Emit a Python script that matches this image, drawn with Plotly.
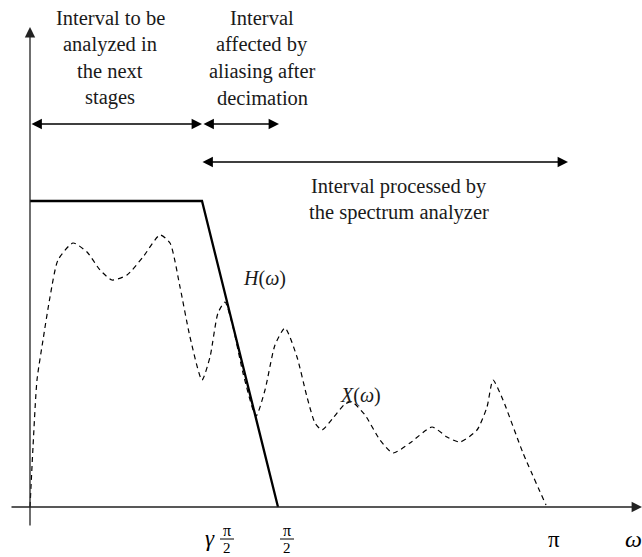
import plotly.graph_objects as go

# ---- data (units: 1 unit = 100 px of the drawing) ----
x_omega = [0.00, 0.03, 0.07, 0.13, 0.20, 0.28, 0.43, 0.57, 0.70, 0.82, 0.97, 1.13, 1.30, 1.40,
           1.50, 1.60, 1.72, 1.80, 1.88, 1.95, 2.03, 2.13, 2.26, 2.35, 2.45, 2.55, 2.67, 2.77,
           2.85, 2.92, 3.03, 3.15, 3.22, 3.35, 3.50, 3.63, 3.80, 4.02, 4.17, 4.30, 4.47, 4.57,
           4.63, 4.73, 4.93, 5.16]
x_mag = [0.00, 0.60, 1.27, 1.67, 2.10, 2.47, 2.64, 2.55, 2.37, 2.27, 2.32, 2.50, 2.72, 2.64,
         2.20, 1.70, 1.27, 1.50, 1.94, 2.05, 1.80, 1.34, 0.91, 1.17, 1.62, 1.79, 1.50, 1.10,
         0.84, 0.77, 0.89, 1.03, 1.05, 0.92, 0.67, 0.54, 0.64, 0.80, 0.70, 0.65, 0.77, 1.00,
         1.27, 1.07, 0.54, 0.02]

h_omega = [0.00, 1.72, 2.48]
h_mag = [3.06, 3.06, 0.00]

tick_pos = [1.97, 2.57, 5.24]          # gamma*pi/2, pi/2, pi
tick_num = ["π", "π", "π"]
tick_den = ["2", "2", ""]

intervals = [  # (start, end, level)
    (0.00, 1.72, 3.83),
    (1.72, 2.49, 3.83),
    (1.71, 5.38, 3.45),
]
text_blocks = [  # (center x, top line y, lines)
    (0.80, 4.89, ["Interval to be", "analyzed in", "the next", "stages"]),
    (2.32, 4.89, ["Interval", "affected by", "aliasing after", "decimation"]),
    (3.69, 3.21, ["Interval processed by", "the spectrum analyzer"]),
]
line_gap = 0.265

FONT = "Liberation Serif"
TXT = "#1a1a1a"
fig = go.Figure()

fig.add_trace(go.Scatter(x=x_omega, y=x_mag, mode="lines",
                         line=dict(color="black", width=1.2, dash="5px,4px", shape="spline", smoothing=0.6),
                         hoverinfo="skip"))
fig.add_trace(go.Scatter(x=h_omega, y=h_mag, mode="lines",
                         line=dict(color="black", width=2.3), hoverinfo="skip"))

ann = []
AS = 1.6
AXC = "#222222"
# axes arrows
ann.append(dict(x=6.12, y=0, ax=-0.20, ay=0, xref="x", yref="y", axref="x", ayref="y", text="",
                showarrow=True, arrowhead=2, arrowsize=AS, arrowwidth=1.3, arrowcolor=AXC, standoff=0))
ann.append(dict(x=0, y=4.80, ax=0, ay=-0.20, xref="x", yref="y", axref="x", ayref="y", text="",
                showarrow=True, arrowhead=2, arrowsize=AS, arrowwidth=1.3, arrowcolor=AXC, standoff=0))
# interval double arrows
for s, e, lv in intervals:
    ann.append(dict(x=e, y=lv, ax=s, ay=lv, xref="x", yref="y", axref="x", ayref="y", text="",
                    showarrow=True, arrowhead=2, startarrowhead=2, arrowside="end+start",
                    arrowsize=AS, startarrowsize=AS, arrowwidth=1.3, arrowcolor="black",
                    standoff=0, startstandoff=0))
# text blocks
for cx, ty, lines in text_blocks:
    for i, t in enumerate(lines):
        ann.append(dict(x=cx, y=ty - i * line_gap, xref="x", yref="y", text=t, showarrow=False,
                        font=dict(family=FONT, size=20.5, color=TXT), xanchor="center", yanchor="middle"))
# curve labels
ann.append(dict(x=2.34, y=2.29, text="<i>H</i>(<i>ω</i>)", showarrow=False,
                font=dict(family=FONT, size=20, color=TXT)))
ann.append(dict(x=3.30, y=1.12, text="<i>X</i>(<i>ω</i>)", showarrow=False,
                font=dict(family=FONT, size=20, color=TXT)))
# tick labels
for p, n, d in zip(tick_pos, tick_num, tick_den):
    if d:
        ann.append(dict(x=p, y=-0.23, text=n, showarrow=False, borderpad=0,
                        font=dict(family=FONT, size=16, color="black")))
        ann.append(dict(x=p, y=-0.405, text=d, showarrow=False, borderpad=0,
                        font=dict(family=FONT, size=15, color="black")))
        fig.add_shape(type="line", x0=p - 0.07, x1=p + 0.07, y0=-0.32, y1=-0.32,
                      line=dict(color="black", width=1))
    else:
        ann.append(dict(x=p, y=-0.32, text=n, showarrow=False, font=dict(family=FONT, size=23, color="black")))
ann.append(dict(x=tick_pos[0] - 0.17, y=-0.31, text="<i>γ</i>", showarrow=False,
                font=dict(family=FONT, size=23, color="black")))
ann.append(dict(x=6.03, y=-0.32, text="<i>ω</i>", showarrow=False,
                font=dict(family=FONT, size=24, color="black")))

fig.update_layout(
    width=642, height=557, margin=dict(l=0, r=0, t=0, b=0),
    paper_bgcolor="white", plot_bgcolor="white", showlegend=False,
    xaxis=dict(range=[-0.30, 6.12], visible=False, fixedrange=True),
    yaxis=dict(range=[-0.50, 5.07], visible=False, fixedrange=True),
    annotations=ann,
)
fig.write_html("out.html")
